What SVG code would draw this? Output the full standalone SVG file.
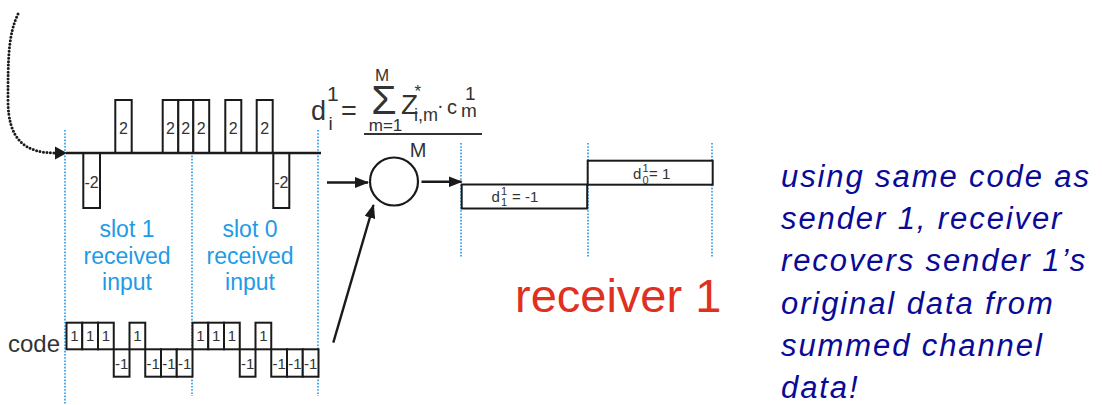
<svg xmlns="http://www.w3.org/2000/svg" width="1102" height="405" viewBox="0 0 1102 405">
<style>
.ln{stroke:#1a1a1a;stroke-width:2.4;fill:none}
.box{stroke:#1a1a1a;stroke-width:2;fill:#fff}
.vd{stroke:#1e96e6;stroke-width:1.6;stroke-dasharray:1.6 1.6;fill:none}
.lbl{font-family:"Liberation Sans",Arial,sans-serif;fill:#333;text-anchor:middle}
.f{font-family:"Liberation Sans",Arial,sans-serif;fill:#333}
.blue{font-family:"Liberation Sans",Arial,sans-serif;fill:#1e9be6;font-size:23px;text-anchor:middle}
.note{font-family:"Liberation Sans",Arial,sans-serif;font-style:italic;fill:#0a0a96;font-size:31px;letter-spacing:1.9px}
</style>
<defs>
<marker id="ah" markerWidth="14" markerHeight="11" refX="13" refY="5.5" orient="auto" markerUnits="userSpaceOnUse">
<path d="M0,0 L14,5.5 L0,11 Z" fill="#1a1a1a"/>
</marker>
</defs>
<rect width="1102" height="405" fill="#fff"/>

<g id="guides">
<line class="vd" x1="65" y1="130" x2="65" y2="405"/>
<line class="vd" x1="192" y1="130" x2="192" y2="396"/>
<line class="vd" x1="318" y1="130" x2="318" y2="396"/>
<line class="vd" x1="461" y1="143" x2="461" y2="258"/>
<line class="vd" x1="588" y1="143" x2="588" y2="258"/>
<line class="vd" x1="712" y1="143" x2="712" y2="258"/>
</g>

<g id="received-input">
<rect class="box" x="83.3" y="153" width="16.7" height="55"/>
<rect class="box" x="115.3" y="100" width="16.4" height="53"/>
<rect class="box" x="162.7" y="100" width="15.6" height="53"/>
<rect class="box" x="178.3" y="100" width="15" height="53"/>
<rect class="box" x="193.3" y="100" width="15.9" height="53"/>
<rect class="box" x="225.3" y="100" width="16" height="53"/>
<rect class="box" x="256.7" y="100" width="16" height="53"/>
<rect class="box" x="273.3" y="153" width="16" height="55"/>
<line class="ln" x1="66" y1="153" x2="321" y2="153" stroke-width="2.2"/>
<g class="lbl" font-size="16">
<text x="123.5" y="134">2</text>
<text x="170.5" y="134">2</text>
<text x="185.8" y="134">2</text>
<text x="201.3" y="134">2</text>
<text x="233.3" y="134">2</text>
<text x="264.7" y="134">2</text>
<text x="91.5" y="187.5">-2</text>
<text x="281.3" y="187.5">-2</text>
</g>
</g>

<g id="slot-labels">
<text class="blue" x="127" y="237">slot 1</text>
<text class="blue" x="127" y="264">received</text>
<text class="blue" x="127" y="290">input</text>
<text class="blue" x="250" y="237">slot 0</text>
<text class="blue" x="250" y="264">received</text>
<text class="blue" x="250" y="290">input</text>
</g>

<g id="code">
<text x="8" y="352" font-family="Liberation Sans,Arial,sans-serif" font-size="24" fill="#333">code</text>
<rect class="box" x="66.5" y="322.7" width="15.75" height="26.6"/>
<rect class="box" x="82.25" y="322.7" width="15.75" height="26.6"/>
<rect class="box" x="98" y="322.7" width="15.75" height="26.6"/>
<rect class="box" x="113.75" y="349.3" width="15.75" height="27.4"/>
<rect class="box" x="129.5" y="322.7" width="15.75" height="26.6"/>
<rect class="box" x="145.25" y="349.3" width="15.75" height="27.4"/>
<rect class="box" x="161" y="349.3" width="15.75" height="27.4"/>
<rect class="box" x="176.75" y="349.3" width="15.75" height="27.4"/>
<rect class="box" x="192.5" y="322.7" width="15.75" height="26.6"/>
<rect class="box" x="208.25" y="322.7" width="15.75" height="26.6"/>
<rect class="box" x="224" y="322.7" width="15.75" height="26.6"/>
<rect class="box" x="239.75" y="349.3" width="15.75" height="27.4"/>
<rect class="box" x="255.5" y="322.7" width="15.75" height="26.6"/>
<rect class="box" x="271.25" y="349.3" width="15.75" height="27.4"/>
<rect class="box" x="287" y="349.3" width="15.75" height="27.4"/>
<rect class="box" x="302.75" y="349.3" width="15.75" height="27.4"/>
<g class="lbl" font-size="15">
<text x="74.4" y="340.5">1</text>
<text x="90.1" y="340.5">1</text>
<text x="105.9" y="340.5">1</text>
<text x="121.6" y="368.5">-1</text>
<text x="137.4" y="340.5">1</text>
<text x="153.1" y="368.5">-1</text>
<text x="168.9" y="368.5">-1</text>
<text x="184.6" y="368.5">-1</text>
<text x="200.4" y="340.5">1</text>
<text x="216.1" y="340.5">1</text>
<text x="231.9" y="340.5">1</text>
<text x="247.6" y="368.5">-1</text>
<text x="263.4" y="340.5">1</text>
<text x="279.1" y="368.5">-1</text>
<text x="294.9" y="368.5">-1</text>
<text x="310.6" y="368.5">-1</text>
</g>
</g>

<g id="formula" class="f">
<text x="311" y="120" font-size="27">d</text>
<text x="327" y="101" font-size="21">1</text>
<text x="328.5" y="130" font-size="19">i</text>
<text x="341" y="120" font-size="27">=</text>
<text x="382" y="81" font-size="17" text-anchor="middle">M</text>
<text x="384" y="113.5" font-size="41" text-anchor="middle">Σ</text>
<text x="385.5" y="131" font-size="17" text-anchor="middle">m=1</text>
<text x="401" y="114" font-size="28">Z</text>
<text x="414.5" y="97" font-size="17">*</text>
<text x="414" y="121" font-size="18">i,m</text>
<text x="437" y="112" font-size="20">·</text>
<text x="447" y="113.5" font-size="20">c</text>
<text x="465" y="100" font-size="19">1</text>
<text x="461" y="116.7" font-size="19">m</text>
<line x1="364" y1="134" x2="482" y2="134" stroke="#333" stroke-width="2"/>
<text x="418" y="157.3" font-size="20" text-anchor="middle">M</text>
</g>

<g id="multiplier">
<circle cx="394" cy="181.5" r="24" fill="#fff" stroke="#1a1a1a" stroke-width="2.2"/>
</g>

<g id="output">
<rect class="box" x="461.7" y="184.5" width="125.5" height="24"/>
<rect class="box" x="587.7" y="160.7" width="125" height="24"/>
<g class="f" font-size="15">
<text x="491.5" y="202">d</text>
<text x="501" y="194.5" font-size="11">1</text>
<text x="501" y="206" font-size="11">1</text>
<text x="512" y="202">= -1</text>
<text x="633" y="179.3">d</text>
<text x="642.5" y="171.5" font-size="11">1</text>
<text x="642.5" y="183.5" font-size="11">0</text>
<text x="649" y="179.3">= 1</text>
</g>
</g>

<g id="receiver-label">
<text x="515" y="312.3" font-family="Liberation Sans,Arial,sans-serif" font-size="47" fill="#e0301e">receiver 1</text>
</g>

<g id="note">
<text class="note" x="781" y="186.7">using same code as</text>
<text class="note" x="781" y="229">sender 1, receiver</text>
<text class="note" x="781" y="271.3">recovers sender 1’s</text>
<text class="note" x="781" y="313.6">original data from</text>
<text class="note" x="781" y="356">summed channel</text>
<text class="note" x="781" y="398.3">data!</text>
</g>

<g id="connectors">
<path d="M18,14 C8,35 8,60 8,100 C8,140 25,153 56,153" fill="none" stroke="#1a1a1a" stroke-width="3" stroke-linecap="round" stroke-dasharray="0 3.5"/>
<path d="M55,146.5 L67,153 L55,159.5 Z" fill="#1a1a1a"/>
<line class="ln" x1="327" y1="182.5" x2="368" y2="182.5" marker-end="url(#ah)"/>
<line class="ln" x1="421.5" y1="181.8" x2="461.5" y2="181.8" marker-end="url(#ah)"/>
<line class="ln" x1="333.3" y1="342.7" x2="373.5" y2="205" marker-end="url(#ah)"/>
</g>
</svg>
